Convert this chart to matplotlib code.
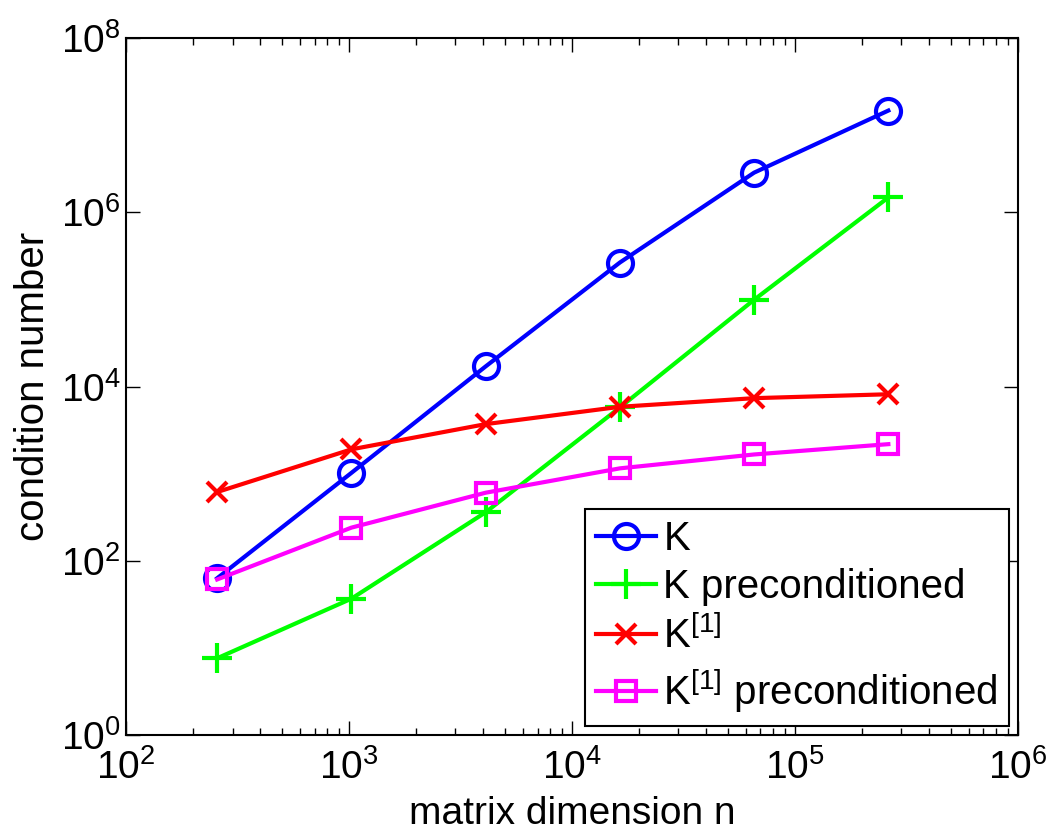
import matplotlib
matplotlib.use("Agg")
import matplotlib.pyplot as plt
from matplotlib.ticker import LogLocator, NullLocator

plt.rcParams['font.family'] = ['Liberation Sans', 'DejaVu Sans']
plt.rcParams['mathtext.fontset'] = 'custom'
plt.rcParams['mathtext.rm'] = 'Liberation Sans'

n = [256, 1024, 4096, 16384, 65536, 262144]
k_plain = [63, 1020, 17000, 2.65e5, 2.85e6, 1.47e7]
k_prec = [7.6, 36.7, 360, 5750, 9.9e4, 1.48e6]
k1_plain = [615, 1900, 3700, 5850, 7350, 8150]
k1_prec = [61, 240, 604, 1150, 1660, 2180]

fig = plt.figure(figsize=(10.51, 8.34), dpi=100)
ax = fig.add_axes([0.12, 0.1187, 0.8486, 0.8357])

lw = 3
ax.plot(n, k_plain, color="#0000ff", marker="o", markersize=18, markerfacecolor="none",
        markeredgewidth=3, linewidth=lw, label="K")
ax.plot(n, k_prec, color="#00ff00", marker="+", markersize=22,
        markeredgewidth=3, linewidth=lw, label="K preconditioned")
ax.plot(n, k1_plain, color="#ff0000", marker="x", markersize=14,
        markeredgewidth=3, linewidth=lw, label="K$^{[1]}$")
ax.plot(n, k1_prec, color="#ff00ff", marker="s", markersize=15, markerfacecolor="none",
        markeredgewidth=3, linewidth=lw, label="K$^{[1]}$ preconditioned")

ax.set_xscale("log")
ax.set_yscale("log")
ax.set_xlim(1e2, 1e6)
ax.set_ylim(1e0, 1e8)
ax.set_yticks([1e0, 1e2, 1e4, 1e6, 1e8])
ax.yaxis.set_minor_locator(NullLocator())
ax.xaxis.set_major_locator(LogLocator(base=10))
ax.xaxis.set_minor_locator(LogLocator(base=10, subs=range(2, 10)))

ax.tick_params(which="both", direction="in", top=True, right=True, labelsize=28, width=1)
ax.tick_params(which="major", length=10)
ax.tick_params(which="minor", length=5)
ax.tick_params(axis="x", which="major", pad=10)
ax.tick_params(axis="y", which="major", pad=4)
for s in ax.spines.values():
    s.set_linewidth(1.5)

ax.set_xlabel("matrix dimension n", fontsize=28, labelpad=7)
ax.set_ylabel("condition number", fontsize=29, labelpad=6)

leg = ax.legend(loc="lower right", fontsize=29, frameon=True, fancybox=False,
                edgecolor="black", framealpha=1, handlelength=1.5, handletextpad=0.18,
                labelspacing=0.25, borderpad=0.28, borderaxespad=0.22)
leg.get_frame().set_linewidth(1.5)

fig.savefig("out.png", dpi=100)
